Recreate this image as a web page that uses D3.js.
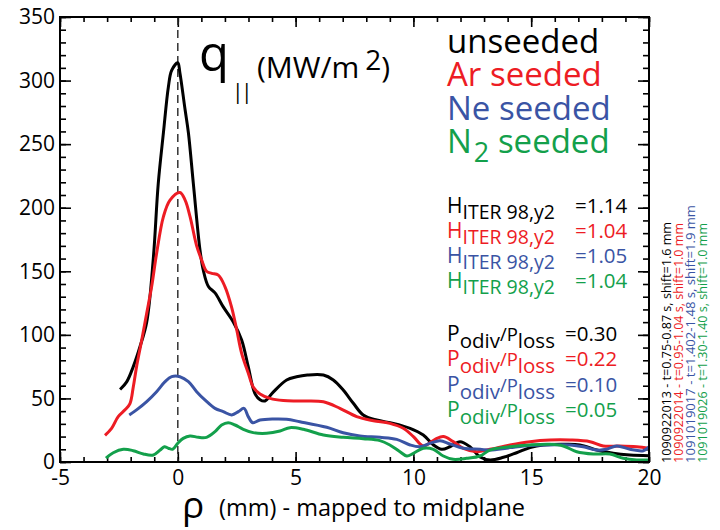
<!DOCTYPE html>
<html><head><meta charset="utf-8">
<script src="https://cdn.jsdelivr.net/npm/d3@7"></script>
<style>
body{margin:0;background:#fff}
svg{display:block}
text{font-family:"Open Sans",sans-serif}
</style>
</head><body>
<svg id="c" width="720" height="530"></svg>
<script>
// ---- data ----
const unseededX = [-2.45,-2.17,-1.89,-1.6,-1.32,-1.04,-0.83,-0.61,-0.4,-0.26,0,0.09,0.31,0.45,0.66,0.94,1.08,1.3,1.58,1.93,2.36,2.71,2.99,3.27,3.49,3.7,4.05,4.62,5.04,5.5,6.18,6.6,7.02,7.45,7.87,8.44,9.15,9.86,10.42,10.85,11.2,11.55,11.98,12.4,12.83,13.25,13.82,14.38,14.95,15.51,16.36,17.07,17.78,18.48,19.19,20];
const unseededY = [57,63,75,91,110,160,219,259,295,308,314,306,277,259,219,167,151,138,133,122,110,96,75,54,49,48,55,64.5,67,68.4,68.4,64.5,56.6,46.2,37,33,30.4,26.5,21.2,13.4,10,12,16,12,4,1.6,3.7,7.3,11.3,13.4,13.9,13.4,9.4,6.8,5.5,5];

const arX = [-3.09,-2.81,-2.53,-2.24,-2.03,-1.89,-1.75,-1.53,-1.32,-1.11,-0.9,-0.61,-0.33,0.09,0.31,0.52,0.8,1.01,1.22,1.44,1.72,2.0,2.28,2.5,2.71,2.99,3.2,3.49,3.92,4.48,5.18,6.18,6.88,7.59,8.3,9.0,9.57,10.0,10.42,10.92,11.27,11.69,12.12,12.69,13.25,14.1,14.95,15.8,16.65,17.5,18.06,18.77,19.48,20];
const arY = [21,26.5,35.7,41,46,59,75,96,117,138,164,193,206,212,206,193,170,159,150,148.4,147,138,122,104,85.5,70,59,53.5,50,48.3,48,47.4,42.2,35.7,32.5,30.4,26.5,20,12.6,17.8,20,16,10.8,8.1,10,13.4,16,17.3,17.3,16,12.6,12.6,12,10.8];

const neX = [-2.06,-1.75,-1.32,-0.9,-0.54,-0.26,0.09,0.45,0.8,1.15,1.58,1.93,2.29,2.57,2.81,2.99,3.18,3.49,4.05,4.62,5.18,6.32,7.02,7.73,8.58,9.29,9.86,10.28,10.7,11.13,11.55,12.12,12.83,13.25,14.1,14.95,15.8,16.65,17.21,17.78,18.2,18.63,19.19,19.76,20];
const neY = [37,41,47.5,55.3,63.2,67.1,67.1,63.2,55.3,48.8,42.2,39.6,37,39.6,42.2,35.7,30.9,33,33.8,33.6,31.7,27.3,23,20.5,19.4,17.8,13.4,12,14.7,16.8,14.2,10.8,10,9.4,11.3,13,13.4,13.4,12,9.4,10,12.6,10,8.9,12];

const n2X = [-3.05,-2.74,-2.31,-1.89,-1.46,-1.04,-0.75,-0.57,-0.4,-0.22,0,0.23,0.52,0.87,1.22,1.58,1.86,2.14,2.43,2.78,3.2,3.77,4.34,4.76,5.33,6.18,7.02,7.87,8.58,9.0,9.43,9.72,10.0,10.42,10.85,11.27,11.69,12.26,12.83,13.25,14.1,14.95,15.8,16.36,16.93,17.64,18.34,18.91,19.48,20];
const n2Y = [3,7.3,10,8.9,6.3,5.5,9.4,12,10.8,10,14.7,18.6,20.5,19.4,19.4,23.9,29.1,30.9,29.1,25.7,23.1,22.6,24.4,27,25.7,21.2,19.4,18.3,16.8,13.4,8.1,4.7,6.8,10.8,10,4.7,2.1,2.9,4.7,9.4,12,13.4,13.9,12.6,8.1,6.3,6.3,2.9,1.6,1.6];

const seriesNames = ["unseeded","Ar seeded","Ne seeded","N2 seeded"];
const seriesColors = ["#000000","#ed1c24","#3a54a4","#13a04b"];
const hValues = ["=1.14","=1.04","=1.05","=1.04"];
const pValues = ["=0.30","=0.22","=0.10","=0.05"];
const shotLabels = [
  "1090922013 - t=0.75-0.87 s, shift=1.6 mm",
  "1090922014 - t=0.95-1.04 s, shift=1.0 mm",
  "1091019017 - t=1.402-1.48 s, shift=1.9 mm",
  "1091019026 - t=1.30-1.40 s, shift=1.0 mm"
];
const xTicks = [-5,0,5,10,15,20];
const yTicks = [0,50,100,150,200,250,300,350];

// ---- layout ----
const L=60, R=649, T=17, B=462;
const svg = d3.select("#c");
const x = d3.scaleLinear().domain([-5,20]).range([L,R]);
const y = d3.scaleLinear().domain([0,350]).range([B,T]);

const series = [
  unseededX.map((v,i)=>[v,unseededY[i]]),
  arX.map((v,i)=>[v,arY[i]]),
  neX.map((v,i)=>[v,neY[i]]),
  n2X.map((v,i)=>[v,n2Y[i]])
];

// axes
const fmt = d => String(d);
function styleAxis(g){ g.select(".domain").remove(); g.selectAll("line").attr("stroke","#000").attr("stroke-width",1.6); g.selectAll("text").attr("font-size",21).attr("fill","#000").attr("font-family","Open Sans, sans-serif"); }
const minorX = d3.range(-5,20.001,1), minorY = d3.range(0,350.001,10);
svg.append("g").attr("transform",`translate(0,${B})`).call(d3.axisBottom(x).tickValues(minorX).tickSize(-5).tickFormat("")).call(styleAxis);
svg.append("g").attr("transform",`translate(0,${B})`).call(d3.axisBottom(x).tickValues(xTicks).tickSize(-10).tickPadding(8).tickFormat(fmt)).call(styleAxis);
svg.append("g").attr("transform",`translate(0,${T})`).call(d3.axisTop(x).tickValues(minorX).tickSize(-5).tickFormat("")).call(styleAxis);
svg.append("g").attr("transform",`translate(0,${T})`).call(d3.axisTop(x).tickValues(xTicks).tickSize(-10).tickFormat("")).call(styleAxis);
svg.append("g").attr("transform",`translate(${L},0)`).call(d3.axisLeft(y).tickValues(minorY).tickSize(-6).tickFormat("")).call(styleAxis);
svg.append("g").attr("transform",`translate(${L},0)`).call(d3.axisLeft(y).tickValues(yTicks).tickSize(-11).tickPadding(5).tickFormat(fmt)).call(styleAxis);
svg.append("g").attr("transform",`translate(${R},0)`).call(d3.axisRight(y).tickValues(minorY).tickSize(-6).tickFormat("")).call(styleAxis);
svg.append("g").attr("transform",`translate(${R},0)`).call(d3.axisRight(y).tickValues(yTicks).tickSize(-11).tickFormat("")).call(styleAxis);

// dashed separatrix
svg.append("line").attr("x1",x(0)).attr("x2",x(0)).attr("y1",T).attr("y2",B)
  .attr("stroke","#333").attr("stroke-width",1.5).attr("stroke-dasharray","8,5");

// curves
const line = d3.line().x(d=>x(d[0])).y(d=>y(d[1])).curve(d3.curveCatmullRom.alpha(0.5));
svg.selectAll("path.s").data(series).enter().append("path").attr("class","s")
  .attr("d",line).attr("fill","none").attr("stroke",(d,i)=>seriesColors[i])
  .attr("stroke-width",3).attr("stroke-linejoin","round").attr("stroke-linecap","butt");

// frame
svg.append("rect").attr("x",L).attr("y",T).attr("width",R-L).attr("height",B-T)
  .attr("fill","none").attr("stroke","#000").attr("stroke-width",2);

// y title
svg.append("text").attr("x",199).attr("y",71).attr("font-size",49).text("q");
svg.append("text").attr("x",232).attr("y",99).attr("font-size",21).attr("letter-spacing",-2.5).text("||");
const yt = svg.append("text").attr("x",257).attr("y",78).attr("font-size",30);
yt.append("tspan").text("(MW/m");
yt.append("tspan").attr("dx",6).attr("dy",-8).attr("font-size",28).text("2");
yt.append("tspan").attr("dy",8).text(")");

// legend
const legY = [53,86,120,153];
seriesNames.forEach((n,i)=>{
  const t = svg.append("text").attr("x",447).attr("y",legY[i]).attr("font-size",33).attr("fill",seriesColors[i]);
  if(n.startsWith("N2")){
    t.append("tspan").text("N");
    t.append("tspan").attr("dx",2).attr("dy",9).attr("font-size",27).text("2");
    t.append("tspan").attr("dy",-9).text(" seeded");
  } else t.text(n);
});

// H factors
const hY = [213,238,263,288];
hValues.forEach((v,i)=>{
  const t = svg.append("text").attr("x",447).attr("y",hY[i]).attr("font-size",21).attr("fill",seriesColors[i]);
  t.append("tspan").text("H");
  t.append("tspan").attr("dy",6).attr("font-size",19.5).text("ITER 98,y2");
  svg.append("text").attr("x",575).attr("y",hY[i]).attr("font-size",20.5).attr("fill",seriesColors[i]).text(v);
});

// P fractions
const pY = [341,366,392,417];
pValues.forEach((v,i)=>{
  const t = svg.append("text").attr("x",447).attr("y",pY[i]).attr("font-size",21).attr("fill",seriesColors[i]);
  t.append("tspan").text("P");
  t.append("tspan").attr("dy",7).attr("font-size",20.5).text("odiv");
  t.append("tspan").attr("dy",-7).attr("font-size",18.5).text("/P");
  t.append("tspan").attr("dy",7).attr("font-size",20.5).text("loss");
  svg.append("text").attr("x",565).attr("y",pY[i]).attr("font-size",20.5).attr("fill",seriesColors[i]).text(v);
});

// shot labels (rotated)
const shotX = [671,683,695,707];
const shotLen = [241,240,258,240];
shotLabels.forEach((s,i)=>{
  svg.append("text").attr("transform",`translate(${shotX[i]},463) rotate(-90)`)
    .attr("font-size",12.5).attr("fill",seriesColors[i])
    .attr("textLength",shotLen[i]).attr("lengthAdjust","spacingAndGlyphs").text(s);
});

// x title
svg.append("text").attr("x",182).attr("y",518).attr("font-size",37).text("ρ");
svg.append("text").attr("x",219).attr("y",516).attr("font-size",23.5).text("(mm) - mapped to midplane");
</script>
</body></html>
